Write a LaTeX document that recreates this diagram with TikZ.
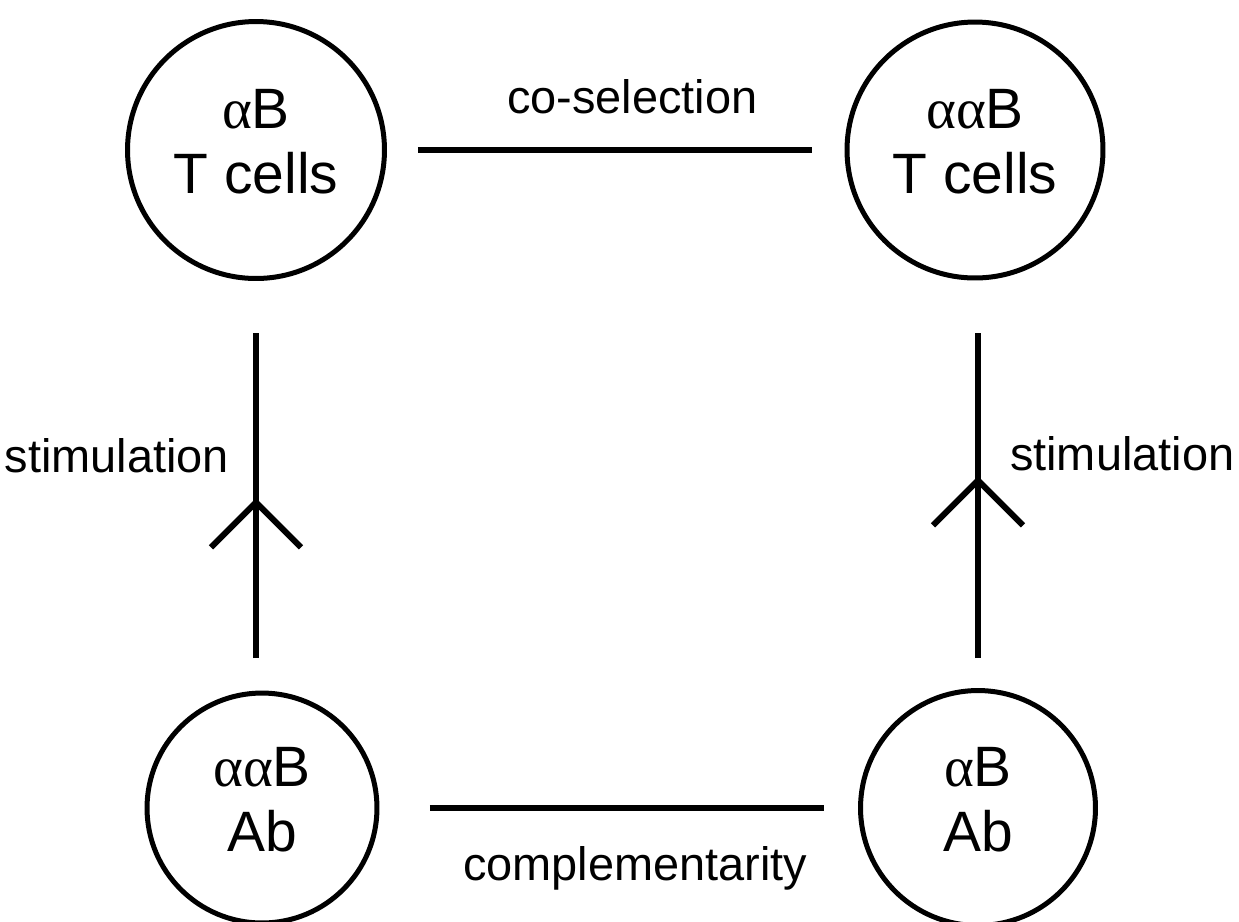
\documentclass[tikz,border=0pt]{standalone}
\usepackage{fontspec}
\setmainfont{Liberation Sans}
\newfontfamily\greekfont{Liberation Serif}
\usetikzlibrary{arrows.meta, positioning, calc, decorations.markings}

\newcommand{\alp}{{\greekfont α}}

\begin{document}
\begin{tikzpicture}[
    x=0.02cm, y=-0.02cm,
    font=\fontsize{26.7}{32}\selectfont,
    cell/.style={draw, circle, line width=0.1cm, inner sep=0pt, align=center, text depth=0.36cm, font=\fontsize{32.4}{37}\selectfont},
    link/.style={line width=0.12cm},
    stim/.style={link, decoration={markings, mark=at position #1 with {\arrow{Straight Barb[length=0.9cm, width=1.8cm]}}}, postaction={decorate}},
    lbl/.style={inner sep=0pt}
]

    \useasboundingbox (0,0) rectangle (1239,921);

    % --- Cells ---
    \node[cell, minimum size=5.14cm] (aBT) at (256,150) {\alp B\\T cells};
    \node[cell, minimum size=5.12cm] (aaBT) at (975,150) {\alp\alp B\\T cells};
    \node[cell, minimum size=4.6cm] (aaBAb) at (262,808) {\alp\alp B\\Ab};
    \node[cell, minimum size=4.7cm] (aBAb) at (978,808) {\alp B\\Ab};

    % --- Links ---
    \draw[link, shorten <=0.62cm, shorten >=0.65cm] (aBT) -- node[lbl, anchor=base, xshift=0.33cm, yshift=0.74cm] {co-selection} (aaBT);
    \draw[link, shorten <=1.01cm, shorten >=0.68cm] (aaBAb) -- node[lbl, anchor=base, xshift=0.33cm, yshift=-1.44cm] {complementarity} (aBAb);

    % --- Stimulation ---
    \draw[stim=0.47, shorten <=0.65cm, shorten >=1.04cm] (aBT.south |- aaBAb.north) -- node[lbl, anchor=base east, xshift=-0.48cm, yshift=0.275cm] {stimulation} (aBT.south);
    \draw[stim=0.52, shorten <=0.6cm, shorten >=1.05cm] (aBAb.north) -- node[lbl, anchor=base west, xshift=0.58cm, yshift=0.285cm] {stimulation} (aBAb.north |- aaBT.south);

\end{tikzpicture}
\end{document}
